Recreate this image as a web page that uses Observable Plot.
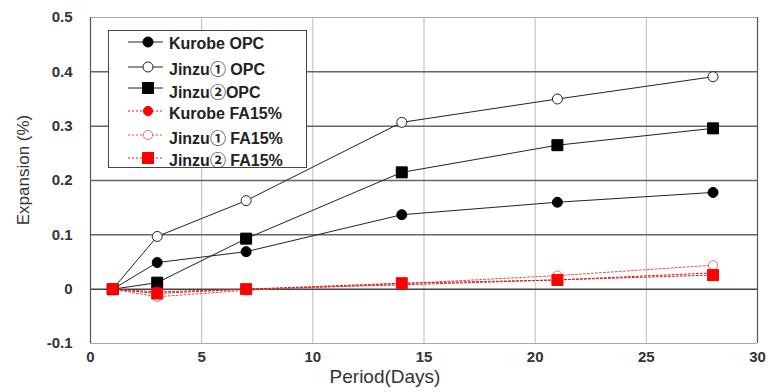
<!DOCTYPE html>
<html>
<head>
<meta charset="utf-8">
<script src="https://cdn.jsdelivr.net/npm/d3@7"></script>
<script src="https://cdn.jsdelivr.net/npm/@observablehq/plot@0.6"></script>
<style>
  html, body { margin: 0; padding: 0; background: #fff; }
  #wrap { position: relative; width: 771px; height: 392px; font-family: "Liberation Sans", "Noto Sans CJK JP", sans-serif; }
  #legend { position: absolute; left: 108px; top: 30px; width: 199px; height: 138px; border: 1px solid #444; background: #fff; box-sizing: border-box; }
  #ylabel { position: absolute; left: 23px; top: 170px; transform: translate(-50%, -50%) rotate(-90deg); white-space: nowrap; font-size: 17px; color: #333; line-height: 1; }
</style>
</head>
<body>
<div id="wrap"></div>
<script>
const days = [1, 3, 7, 14, 21, 28];
const seriesNames = ["Kurobe OPC", "Jinzu\u2460 OPC", "Jinzu\u2461OPC", "Kurobe FA15%", "Jinzu\u2460 FA15%", "Jinzu\u2461 FA15%"];
const kurobeOPC = [0, 0.049, 0.069, 0.137, 0.160, 0.178];
const jinzu1OPC = [0, 0.097, 0.163, 0.307, 0.350, 0.391];
const jinzu2OPC = [0, 0.012, 0.093, 0.215, 0.265, 0.296];
const kurobeFA = [0, -0.005, 0.000, 0.008, 0.017, 0.030];
const jinzu1FA = [0, -0.014, -0.002, 0.010, 0.025, 0.044];
const jinzu2FA = [0, -0.008, 0.000, 0.011, 0.017, 0.026];
const xTicks = [0, 5, 10, 15, 20, 25, 30];
const yTicks = [-0.1, 0, 0.1, 0.2, 0.3, 0.4, 0.5];
const xLabel = "Period(Days)";
const yLabel = "Expansion (%)";

const FONT = "Liberation Sans, Noto Sans CJK JP, sans-serif";
const allValues = [kurobeOPC, jinzu1OPC, jinzu2OPC, kurobeFA, jinzu1FA, jinzu2FA];
const styles = [
  {line: "#222", dash: null, symbol: "circle", fill: "#000", stroke: "#000", r: 5},
  {line: "#222", dash: null, symbol: "circle", fill: "#fff", stroke: "#222", r: 5},
  {line: "#222", dash: null, symbol: "square", fill: "#000", stroke: "#000", r: 6.2},
  {line: "#e02020", dash: "2,2", symbol: "circle", fill: "#ff0000", stroke: "#ff0000", r: 4.6},
  {line: "#e05050", dash: "2,2", symbol: "circle", fill: "#fff", stroke: "#f07070", r: 4.6},
  {line: "#cc2020", dash: "2,2", symbol: "square", fill: "#ff0000", stroke: "#ff0000", r: 6.2}
];
const rows = [];
allValues.forEach((vals, i) => days.forEach((d, j) => rows.push({series: seriesNames[i], idx: i, day: d, value: vals[j]})));

const marks = [
  Plot.ruleX(xTicks.slice(1, -1), {stroke: "#bbb", strokeWidth: 1}),
  Plot.ruleY(yTicks.filter(v => v !== -0.1), {stroke: d => d === 0 ? "#444" : (d === 0.5 ? "#aaa" : "#666"), strokeWidth: d => d === 0.5 ? 1 : 1.5}),
  Plot.ruleY([-0.1], {stroke: "#aaa", strokeWidth: 1}),
  Plot.ruleX([0], {stroke: "#555", strokeWidth: 1.2}),
  Plot.ruleX([30], {stroke: "#555", strokeWidth: 1.2})
];
styles.forEach((s, i) => {
  const data = rows.filter(r => r.idx === i);
  marks.push(Plot.line(data, {x: "day", y: "value", stroke: s.line, strokeWidth: 1, strokeDasharray: s.dash}));
});
styles.forEach((s, i) => {
  const data = rows.filter(r => r.idx === i);
  marks.push(Plot.dot(data, {x: "day", y: "value", symbol: () => s.symbol, r: s.r, fill: s.fill, stroke: s.stroke, strokeWidth: 1}));
});
marks.push(Plot.text([xLabel], {frameAnchor: "bottom", dx: -39, dy: 39, fontSize: 19, fill: "#333", fontFamily: FONT}));
marks.push(Plot.axisX({ticks: xTicks, tickSize: 0, tickPadding: 8, fontSize: 15, fontWeight: "bold", color: "#333", label: null}));
marks.push(Plot.axisY({ticks: yTicks, tickSize: 0, tickPadding: 18, fontSize: 15, fontWeight: "bold", color: "#333", label: null,
  tickFormat: d => d === 0 ? "0" : (d < 0 ? "-" + Math.abs(d).toFixed(1) : d.toFixed(1))}));

const chart = Plot.plot({
  width: 771,
  height: 392,
  marginLeft: 90,
  marginRight: 14,
  marginTop: 17,
  marginBottom: 49,
  style: {background: "#fff", fontFamily: FONT},
  x: {domain: [0, 30]},
  y: {domain: [-0.1, 0.5]},
  symbol: {type: "identity"},
  marks
});
const wrap = document.getElementById("wrap");
wrap.appendChild(chart);

const yl = document.createElement("div");
yl.id = "ylabel";
yl.textContent = yLabel;
wrap.appendChild(yl);

// legend overlay
const symbolY = [11, 36, 57, 80, 104, 127];
const textY = [12, 38, 61, 82, 107, 129];
const ns = "http://www.w3.org/2000/svg";
const lg = document.createElement("div");
lg.id = "legend";
const ls = document.createElementNS(ns, "svg");
ls.setAttribute("width", 197);
ls.setAttribute("height", 136);
ls.style.display = "block";
ls.style.overflow = "visible";
styles.forEach((s, i) => {
  const y = symbolY[i];
  const line = document.createElementNS(ns, "line");
  line.setAttribute("x1", 19); line.setAttribute("x2", 54);
  line.setAttribute("y1", y); line.setAttribute("y2", y);
  line.setAttribute("stroke", s.line); line.setAttribute("stroke-width", 1);
  if (s.dash) line.setAttribute("stroke-dasharray", s.dash);
  ls.appendChild(line);
  let m;
  if (s.symbol === "circle") {
    m = document.createElementNS(ns, "circle");
    m.setAttribute("cx", 39); m.setAttribute("cy", y); m.setAttribute("r", s.r);
  } else {
    const side = Math.sqrt(Math.PI) * s.r;
    m = document.createElementNS(ns, "rect");
    m.setAttribute("x", 39 - side / 2); m.setAttribute("y", y - side / 2);
    m.setAttribute("width", side); m.setAttribute("height", side);
  }
  m.setAttribute("fill", s.fill); m.setAttribute("stroke", s.stroke);
  ls.appendChild(m);
  const t = document.createElementNS(ns, "text");
  t.setAttribute("x", 60); t.setAttribute("y", textY[i]);
  t.setAttribute("dy", "0.35em");
  t.setAttribute("font-size", 16);
  t.setAttribute("font-weight", "bold");
  t.setAttribute("fill", "#222");
  t.setAttribute("font-family", FONT);
  t.textContent = seriesNames[i];
  ls.appendChild(t);
});
lg.appendChild(ls);
wrap.appendChild(lg);
</script>
</body>
</html>
